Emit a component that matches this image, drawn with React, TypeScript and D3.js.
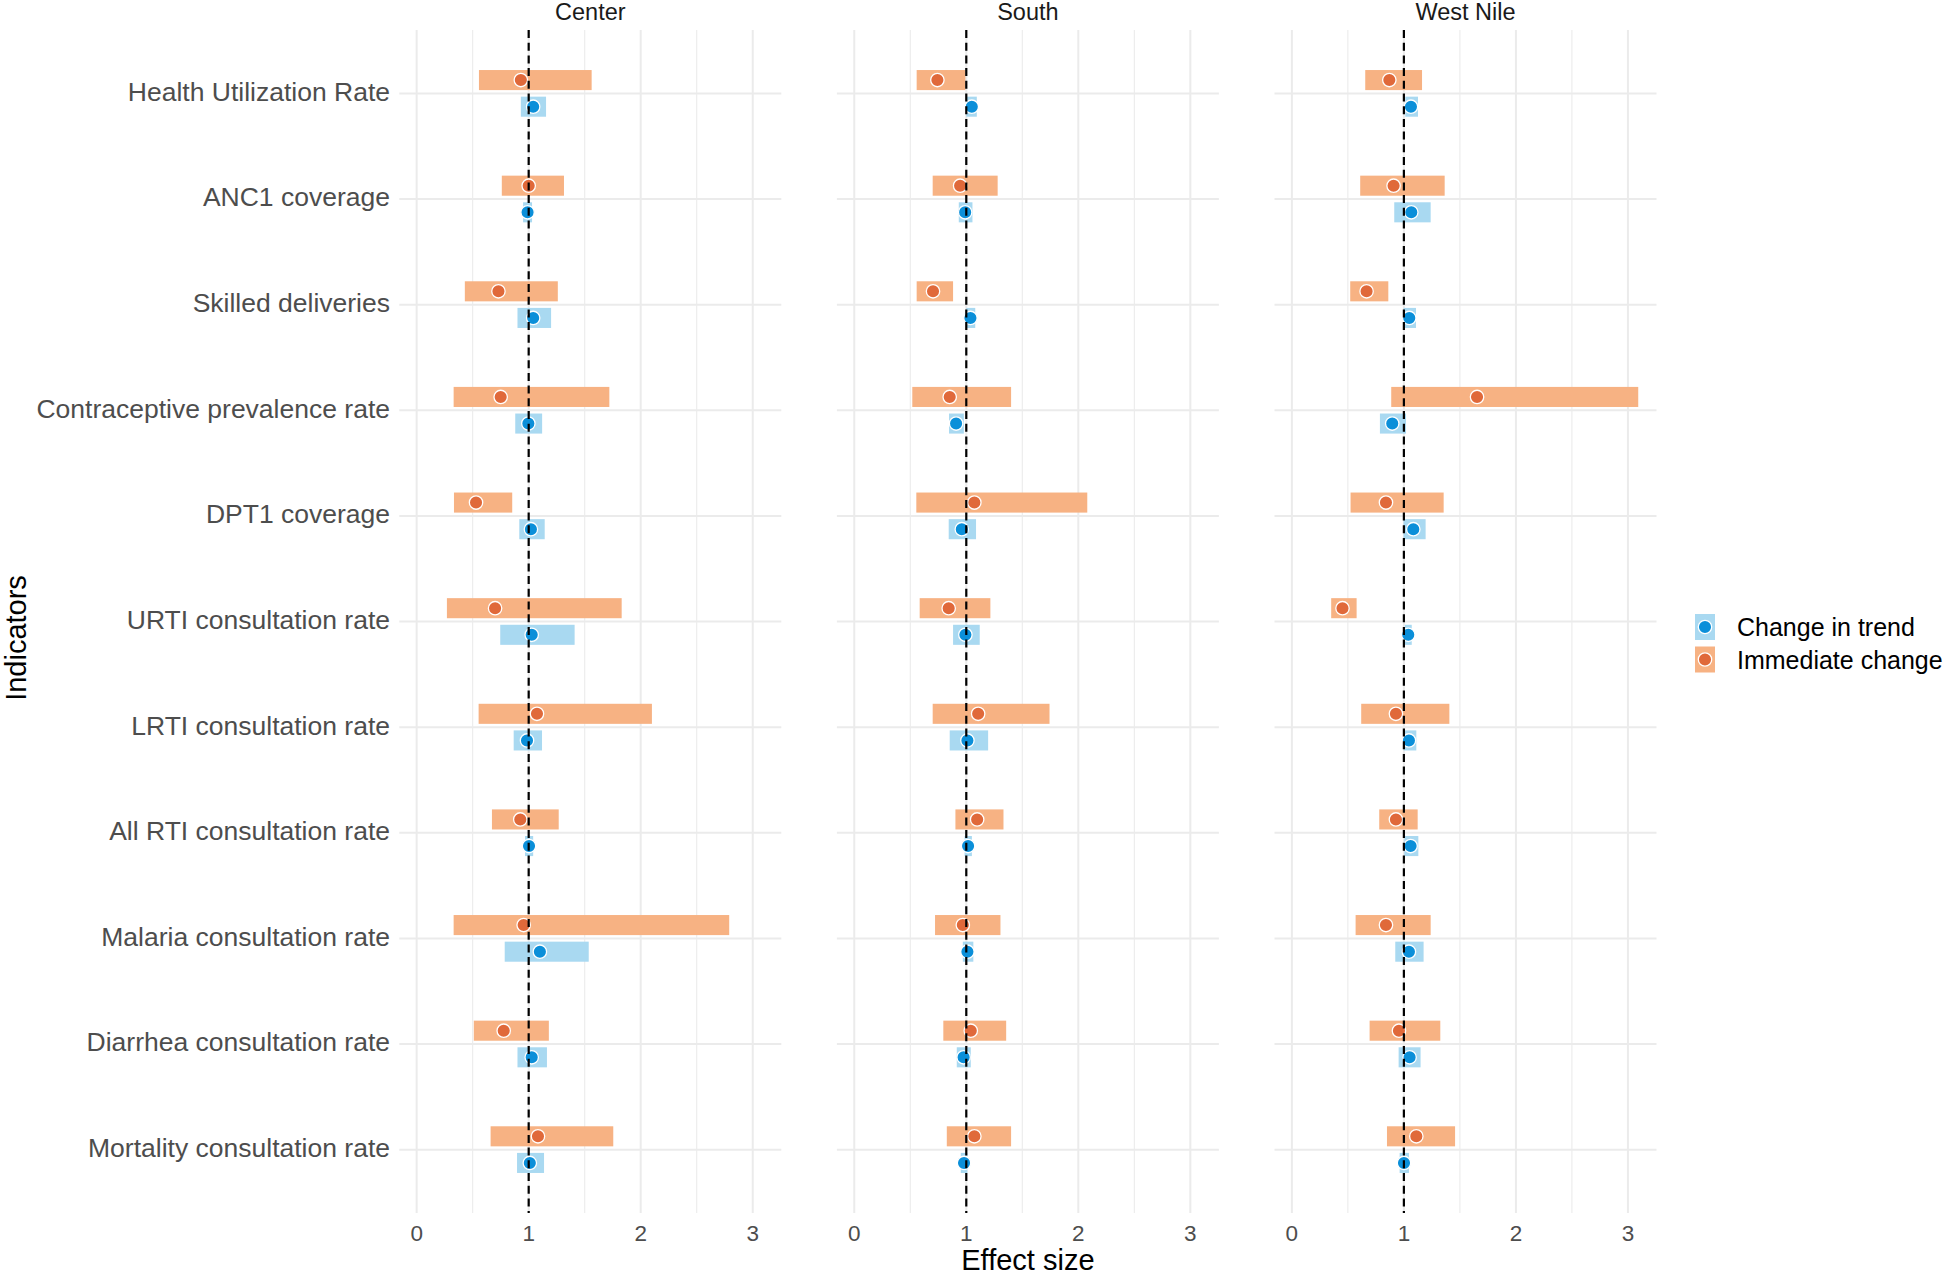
import React from 'react';
import * as d3 from 'd3';

const indicators = [
  'Health Utilization Rate',
  'ANC1 coverage',
  'Skilled deliveries',
  'Contraceptive prevalence rate',
  'DPT1 coverage',
  'URTI consultation rate',
  'LRTI consultation rate',
  'All RTI consultation rate',
  'Malaria consultation rate',
  'Diarrhea consultation rate',
  'Mortality consultation rate',
];

const regions = ['Center', 'South', 'West Nile'];
const seriesNames = ['Change in trend', 'Immediate change'];
const xTicks = [0, 1, 2, 3];
const xMinorTicks = [0.5, 1.5, 2.5];

// [low, estimate, high]
const centerImmediate = [
  [0.556, 0.93, 1.562], [0.76, 1.0, 1.315], [0.43, 0.73, 1.26], [0.33, 0.75, 1.72],
  [0.333, 0.53, 0.853], [0.27, 0.70, 1.83], [0.553, 1.074, 2.1], [0.672, 0.925, 1.268],
  [0.33, 0.955, 2.79], [0.51, 0.777, 1.18], [0.66, 1.083, 1.755],
];
const centerTrend = [
  [0.93, 1.04, 1.155], [0.95, 0.99, 1.03], [0.90, 1.04, 1.2], [0.88, 0.997, 1.12],
  [0.916, 1.02, 1.143], [0.746, 1.027, 1.41], [0.866, 0.985, 1.119], [0.967, 1.003, 1.04],
  [0.786, 1.10, 1.536], [0.90, 1.027, 1.163], [0.896, 1.01, 1.137],
];
const southImmediate = [
  [0.557, 0.742, 0.992], [0.70, 0.945, 1.28], [0.557, 0.703, 0.882], [0.518, 0.852, 1.40],
  [0.554, 1.072, 2.08], [0.584, 0.843, 1.215], [0.70, 1.106, 1.743], [0.903, 1.097, 1.332],
  [0.721, 0.969, 1.305], [0.795, 1.04, 1.356], [0.826, 1.072, 1.40],
];
const southTrend = [
  [1.0, 1.049, 1.094], [0.933, 0.99, 1.055], [1.0, 1.037, 1.08], [0.846, 0.909, 0.978],
  [0.843, 0.96, 1.087], [0.882, 0.992, 1.12], [0.852, 1.01, 1.195], [0.985, 1.016, 1.05],
  [0.969, 1.01, 1.063], [0.915, 0.976, 1.04], [0.951, 0.98, 1.01],
];
const westNileImmediate = [
  [0.655, 0.87, 1.162], [0.61, 0.908, 1.364], [0.521, 0.667, 0.861], [0.887, 1.653, 3.092],
  [0.524, 0.84, 1.355], [0.351, 0.452, 0.578], [0.619, 0.929, 1.406], [0.78, 0.929, 1.123],
  [0.569, 0.84, 1.239], [0.694, 0.956, 1.325], [0.849, 1.111, 1.457],
];
const westNileTrend = [
  [1.0125, 1.063, 1.126], [0.914, 1.066, 1.239], [0.997, 1.048, 1.108], [0.786, 0.896, 1.019],
  [0.997, 1.084, 1.194], [1.01, 1.039, 1.07], [0.997, 1.045, 1.111], [1.004, 1.06, 1.129],
  [0.923, 1.045, 1.176], [0.953, 1.051, 1.149], [0.962, 1.001, 1.045],
];

const regionData = [
  { trend: centerTrend, immediate: centerImmediate },
  { trend: southTrend, immediate: southImmediate },
  { trend: westNileTrend, immediate: westNileImmediate },
];

const W = 1944;
const H = 1277;
const panelLeft = 399.3;
const panelW = 382;
const panelGap = 55.6;
const panelTop = 30;
const panelBottom = 1213;
const FONT = '"Liberation Sans", Arial, Helvetica, sans-serif';

const trendBar = '#a9d9f1';
const trendPoint = '#0b8fd9';
const immBar = '#f7b283';
const immPoint = '#e0693a';
const grid = '#ebebeb';

export default function App() {
  const x = d3.scaleLinear().domain([-0.155, 3.255]).range([0, panelW]);
  const y = d3.scalePoint<string>().domain(indicators).range([panelTop, panelBottom]).padding(0.6);
  const step = y.step();
  const dodge = step * 0.126;
  const barH = step * 0.19;
  const r = 6.7;

  const series = [
    { key: 'immediate', off: -dodge, bar: immBar, pt: immPoint },
    { key: 'trend', off: dodge, bar: trendBar, pt: trendPoint },
  ];

  return (
    <div style={{ position: 'absolute', left: 0, top: 0 }}>
      <svg width={W} height={H} style={{ display: 'block', background: '#fff' }} fontFamily={FONT}>
        {regions.map((reg, ri) => {
          const px = panelLeft + ri * (panelW + panelGap);
          const d = regionData[ri];
          return (
            <g key={reg} transform={`translate(${px},0)`}>
              {xMinorTicks.map((t) => (
                <line key={'mn' + t} x1={x(t)} x2={x(t)} y1={panelTop} y2={panelBottom} stroke={grid} strokeWidth={1.1} />
              ))}
              {xTicks.map((t) => (
                <line key={'mj' + t} x1={x(t)} x2={x(t)} y1={panelTop} y2={panelBottom} stroke={grid} strokeWidth={2} />
              ))}
              {indicators.map((c) => (
                <line key={'h' + c} x1={0} x2={panelW} y1={y(c)} y2={y(c)} stroke={grid} strokeWidth={2} />
              ))}
              {series.map((s) =>
                (d as any)[s.key].map((v: number[], i: number) => (
                  <rect
                    key={s.key + 'b' + i}
                    x={x(v[0])}
                    width={Math.max(0, x(v[2]) - x(v[0]))}
                    y={(y(indicators[i]) as number) + s.off - barH / 2}
                    height={barH}
                    fill={s.bar}
                  />
                ))
              )}
              {series.map((s) =>
                (d as any)[s.key].map((v: number[], i: number) => (
                  <circle
                    key={s.key + 'p' + i}
                    cx={x(v[1])}
                    cy={(y(indicators[i]) as number) + s.off}
                    r={r}
                    fill={s.pt}
                    stroke="#fff"
                    strokeWidth={1.3}
                  />
                ))
              )}
              <line x1={x(1)} x2={x(1)} y1={panelTop} y2={panelBottom} stroke="#000" strokeWidth={2.2} strokeDasharray="8,4.7" />
              <text x={panelW / 2} y={20} textAnchor="middle" fontSize={23.5} fill="#1a1a1a">
                {reg}
              </text>
              {xTicks.map((t) => (
                <text key={'tl' + t} x={x(t)} y={1241} textAnchor="middle" fontSize={22.5} fill="#4d4d4d">
                  {t}
                </text>
              ))}
            </g>
          );
        })}
        {indicators.map((c) => (
          <text key={'yl' + c} x={390} y={(y(c) as number)} dy="0.28em" textAnchor="end" fontSize={26.5} fill="#4d4d4d">
            {c}
          </text>
        ))}
        <text x={(panelLeft + panelLeft + 3 * panelW + 2 * panelGap) / 2} y={1270} textAnchor="middle" fontSize={29} fill="#000">
          Effect size
        </text>
        <text transform={`translate(26,638) rotate(-90)`} textAnchor="middle" fontSize={29} fill="#000">
          Indicators
        </text>
        {[
          { name: seriesNames[0], bar: trendBar, pt: trendPoint },
          { name: seriesNames[1], bar: immBar, pt: immPoint },
        ].map((l, i) => {
          const cy = 627 + i * 32.5;
          return (
            <g key={l.name}>
              <rect x={1695} y={cy - 13} width={20} height={26} fill={l.bar} />
              <circle cx={1705} cy={cy} r={r} fill={l.pt} stroke="#fff" strokeWidth={1.3} />
              <text x={1737} y={cy} dy="0.36em" fontSize={25} fill="#000">
                {l.name}
              </text>
            </g>
          );
        })}
      </svg>
    </div>
  );
}
